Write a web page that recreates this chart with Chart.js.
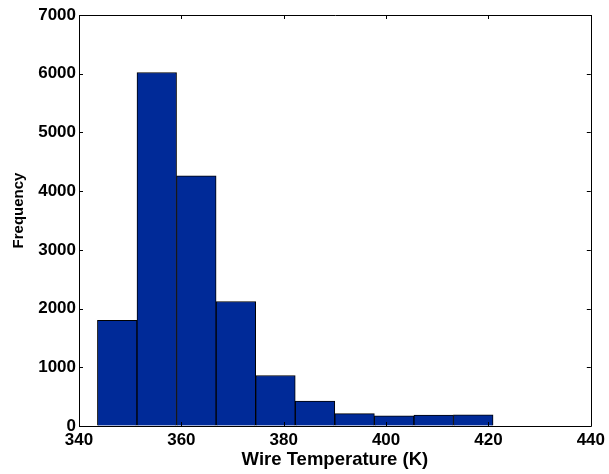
<!DOCTYPE html>
<html>
<head>
<meta charset="utf-8">
<script src="https://cdn.jsdelivr.net/npm/chart.js@4/dist/chart.umd.min.js"></script>
<style>
  html, body { margin: 0; padding: 0; background: #fff; }
  #wrap { width: 609px; height: 474px; position: relative; }
</style>
</head>
<body>
<div id="wrap"><canvas id="hist"></canvas></div>
<script>
// Histogram bin edges (K) and counts per bin
const binEdges = [343.6, 351.33, 359.06, 366.79, 374.52, 382.25, 389.98, 397.71, 405.44, 413.17, 420.9];
const binCounts = [1800, 6020, 4260, 2120, 860, 425, 210, 175, 185, 190];
const xTicks = [340, 360, 380, 400, 420, 440];
const yTicks = [0, 1000, 2000, 3000, 4000, 5000, 6000, 7000];

const points = binCounts.map((c, i) => ({ x: (binEdges[i] + binEdges[i + 1]) / 2, y: c }));

const FONT = "'Liberation Sans', Arial, Helvetica, sans-serif";

// MATLAB-style box with inward tick marks on all four sides
const boxTicks = {
  id: 'boxTicks',
  afterDraw(chart) {
    const { ctx, chartArea: a, scales } = chart;
    const L = 4;
    ctx.save();
    ctx.strokeStyle = '#000';
    ctx.lineWidth = 1;
    ctx.beginPath();
    ctx.rect(Math.round(a.left) + 0.5, Math.round(a.top) + 0.5,
             Math.round(a.right) - Math.round(a.left), Math.round(a.bottom) - Math.round(a.top));
    ctx.stroke();
    ctx.beginPath();
    scales.x.ticks.forEach(t => {
      const px = Math.round(scales.x.getPixelForValue(t.value)) + 0.5;
      ctx.moveTo(px, a.bottom); ctx.lineTo(px, a.bottom - L);
      ctx.moveTo(px, a.top); ctx.lineTo(px, a.top + L);
    });
    scales.y.ticks.forEach(t => {
      const py = Math.round(scales.y.getPixelForValue(t.value)) + 0.5;
      ctx.moveTo(a.left, py); ctx.lineTo(a.left + L, py);
      ctx.moveTo(a.right, py); ctx.lineTo(a.right - L, py);
    });
    ctx.stroke();
    ctx.restore();
  }
};

// Lift the y-axis title a little above the axis centre
function raiseTitle(scale) {
  if (scale._raised) return;
  scale._raised = true;
  const draw = scale.drawTitle;
  scale.drawTitle = function () {
    this.ctx.save();
    this.ctx.translate(0, -10);
    draw.call(this);
    this.ctx.restore();
  };
}

new Chart(document.getElementById('hist'), {
  type: 'bar',
  data: {
    datasets: [{
      data: points,
      backgroundColor: '#002A98',
      borderColor: '#000',
      borderWidth: 1,
      barPercentage: 1,
      categoryPercentage: 1
    }]
  },
  options: {
    responsive: true,
    maintainAspectRatio: false,
    animation: false,
    layout: { padding: { left: 0, right: 18, top: 15, bottom: 0 } },
    plugins: { legend: { display: false }, tooltip: { enabled: false } },
    scales: {
      x: {
        type: 'linear',
        offset: false,
        min: 340, max: 440,
        afterBuildTicks(s) { s.ticks = xTicks.map(v => ({ value: v })); },
        afterFit(s) { s.height = 48; },
        grid: { display: true, offset: false, drawOnChartArea: false, drawTicks: false },
        border: { display: true, color: '#000', width: 1 },
        ticks: {
          autoSkip: false, maxRotation: 0, padding: 4, color: '#000',
          callback: v => String(v),
          font: { family: FONT, size: 17, weight: 'bold' }
        },
        title: {
          display: true, text: 'Wire Temperature (K)', color: '#000',
          padding: { top: 0, bottom: 3 },
          font: { family: FONT, size: 18.5, weight: 'bold' }
        }
      },
      y: {
        min: 0, max: 7000,
        afterBuildTicks(s) { s.ticks = yTicks.map(v => ({ value: v })); },
        afterFit(s) { s.width = 79; raiseTitle(s); },
        grid: { display: true, drawOnChartArea: false, drawTicks: false },
        border: { display: true, color: '#000', width: 1 },
        ticks: {
          padding: 3, color: '#000',
          callback: v => String(v),
          font: { family: FONT, size: 17, weight: 'bold' }
        },
        title: {
          display: true, text: 'Frequency', color: '#000',
          padding: { top: 10, bottom: 0 },
          font: { family: FONT, size: 15, weight: 'bold' }
        }
      }
    }
  },
  plugins: [boxTicks]
});
</script>
</body>
</html>
